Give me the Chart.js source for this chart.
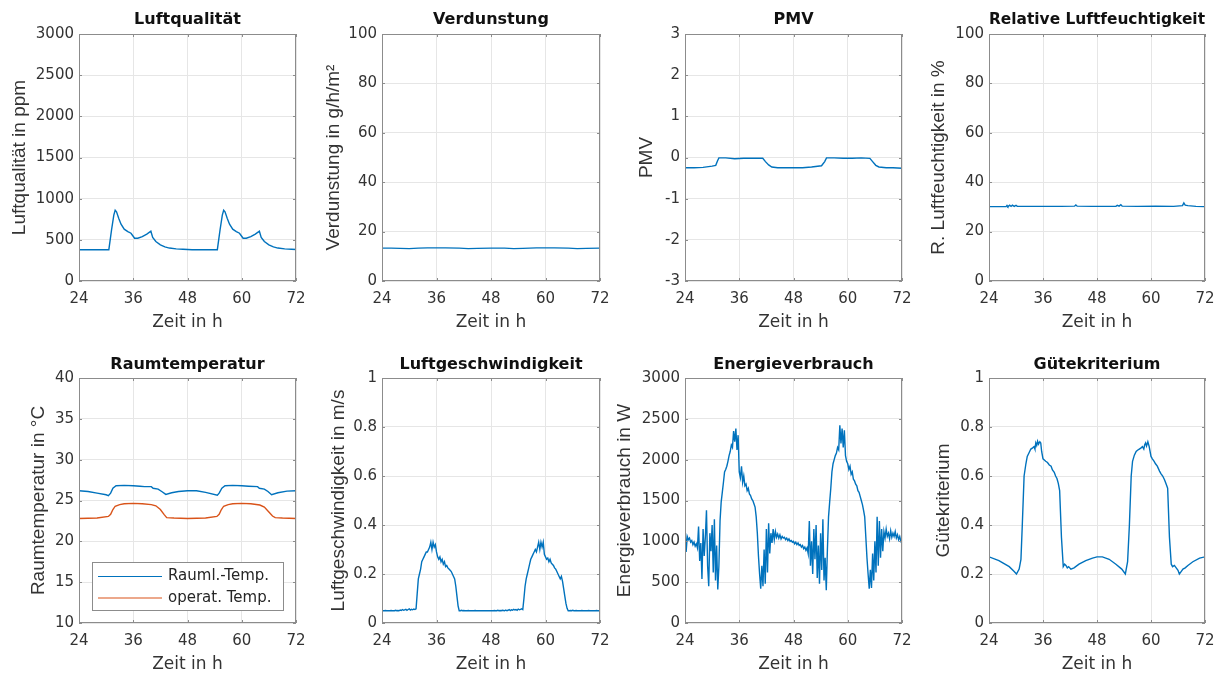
<!DOCTYPE html>
<html lang="de">
<head>
<meta charset="utf-8">
<title>Simulationsergebnisse Raumklima</title>
<script src="https://cdn.jsdelivr.net/npm/chart.js@4.4.1/dist/chart.umd.min.js"></script>
<style>
  html, body { margin: 0; padding: 0; background: #fff; overflow: hidden; }
  body { width: 1223px; height: 675px; position: relative; }
</style>
</head>
<body>
<script>
// Zeitachse (Stunden) und Achsenbeschriftungen
const zeitTicks = [24, 36, 48, 60, 72];
const ticksLuftqualitaet = [0, 500, 1000, 1500, 2000, 2500, 3000];
const ticksProzent = [0, 20, 40, 60, 80, 100];
const ticksPmv = [-3, -2, -1, 0, 1, 2, 3];
const ticksTemperatur = [10, 15, 20, 25, 30, 35, 40];
const ticksEins = [0, 0.2, 0.4, 0.6, 0.8, 1];
const ticksEnergie = [0, 500, 1000, 1500, 2000, 2500, 3000];

// Luftqualität in ppm
const zeitLuft = [24, 30.6, 31.2, 31.7, 32.0, 32.3, 32.8, 33.3, 34.0, 34.8,
  35.5, 35.9, 36.3, 37.0, 38.0, 39.0, 39.9, 40.3, 41.0, 42.0,
  43.0, 44.0, 45.5, 47.0, 49.0, 54.6, 55.2, 55.7, 56.0, 56.3,
  56.8, 57.3, 58.0, 58.8, 59.5, 59.9, 60.3, 61.0, 62.0, 63.0,
  63.9, 64.3, 65.0, 66.0, 67.0, 68.0, 69.5, 71.0, 72];
const luftqualitaet = [380, 380, 620, 800, 860, 840, 760, 690, 630, 600,
  580, 550, 520, 520, 540, 570, 605, 530, 480, 440,
  415, 400, 390, 385, 380, 380, 620, 800, 860, 840,
  760, 690, 630, 600, 580, 550, 520, 520, 540, 570,
  605, 530, 480, 440, 415, 400, 390, 385, 382];

// Verdunstung in g/h/m²
const zeitVerdunstung = [24, 26, 28, 30, 32, 34, 38, 41, 43, 45, 48, 51, 53, 55, 58, 62, 65, 67, 69, 72];
const verdunstung = [13.3, 13.3, 13.2, 13.1, 13.3, 13.4, 13.4, 13.3, 13.1, 13.2,
  13.3, 13.3, 13.1, 13.2, 13.4, 13.4, 13.3, 13.1, 13.2, 13.3];

// PMV
const zeitPmv = [24, 26, 28, 30, 30.8, 31.2, 31.5, 33, 35, 37,
  39, 41.2, 41.8, 42.5, 43.2, 44.5, 47, 50, 52, 54.2,
  54.9, 55.3, 57, 59, 61, 63, 64.9, 65.5, 66.2, 66.9,
  68.5, 70, 72];
const pmv = [-0.25, -0.25, -0.24, -0.21, -0.19, -0.08, -0.01, -0.01, -0.03, -0.02,
  -0.02, -0.02, -0.1, -0.18, -0.23, -0.25, -0.25, -0.25, -0.23, -0.2,
  -0.1, -0.01, -0.01, -0.02, -0.02, -0.01, -0.02, -0.1, -0.19, -0.23,
  -0.25, -0.25, -0.26];

// Relative Luftfeuchtigkeit in %
const zeitFeuchte = [24, 27.8, 28.0, 28.2, 28.6, 28.9, 29.2, 29.6, 30.0, 30.3,
  33, 36, 40, 43.0, 43.3, 43.6, 47, 50, 52.2, 52.5,
  52.9, 53.3, 53.6, 57, 61, 65, 67.0, 67.3, 67.6, 68.2,
  70, 72];
const feuchte = [30.1, 30.1, 30.6, 30.1, 30.7, 30.2, 30.7, 30.2, 30.6, 30.2,
  30.2, 30.2, 30.2, 30.3, 30.8, 30.3, 30.2, 30.2, 30.2, 30.6,
  30.3, 30.9, 30.3, 30.2, 30.3, 30.2, 30.5, 31.6, 30.7, 30.5,
  30.2, 30.1];

// Raumtemperatur in °C (Raumluft und operative Temperatur)
const zeitRaumluft = [24, 26, 28, 30, 30.5, 31.0, 31.5, 32.2, 34, 36,
  37.5, 38.5, 40.0, 40.4, 41.5, 42.3, 43.2, 44.5, 46, 48,
  50, 52, 54.6, 55.0, 55.6, 56.3, 58, 60, 61.5, 63.5,
  63.9, 65.0, 65.8, 66.6, 68, 70, 72];
const raumluftTemp = [26.2, 26.1, 25.9, 25.7, 25.6, 25.9, 26.5, 26.8, 26.85, 26.8,
  26.75, 26.7, 26.7, 26.5, 26.4, 26.1, 25.75, 25.95, 26.1, 26.2,
  26.2, 26.0, 25.65, 25.9, 26.5, 26.8, 26.85, 26.8, 26.75, 26.7,
  26.5, 26.4, 26.1, 25.7, 25.95, 26.15, 26.2];
const zeitOperativ = [24, 28, 30.5, 31.0, 31.5, 32.0, 33.0, 34, 36, 38,
  40, 41, 42, 42.8, 43.4, 45, 48, 52, 54.5, 55.0,
  55.5, 56.0, 57.0, 58, 60, 62, 64, 65, 66, 66.8,
  67.4, 69, 72];
const operativTemp = [22.8, 22.85, 23.05, 23.3, 23.9, 24.3, 24.5, 24.6, 24.65, 24.6,
  24.5, 24.35, 23.9, 23.3, 22.9, 22.85, 22.8, 22.85, 23.05, 23.3,
  23.9, 24.3, 24.5, 24.6, 24.65, 24.6, 24.45, 24.2, 23.6, 23.1,
  22.9, 22.85, 22.8];

// 15-Minuten-Raster für die verrauschten Messreihen (24 h ... 72 h)
const zeit15 = Array.from({length: 193}, (_, i) => 24 + i * 0.25);

// Luftgeschwindigkeit in m/s, eine Zeile = 3 Stunden
const luftgeschwindigkeit = [
  0.05, 0.05, 0.05, 0.051, 0.05, 0.05, 0.05, 0.05, 0.051, 0.05, 0.05, 0.05,
  0.052, 0.05, 0.051, 0.05, 0.053, 0.051, 0.055, 0.052, 0.054, 0.056, 0.052, 0.055,
  0.058, 0.053, 0.056, 0.054, 0.057, 0.055, 0.058, 0.12, 0.18, 0.2, 0.22, 0.25,
  0.26, 0.27, 0.28, 0.29, 0.29, 0.3, 0.31, 0.33, 0.3, 0.33, 0.31, 0.32,
  0.29, 0.27, 0.26, 0.27, 0.25, 0.26, 0.24, 0.25, 0.23, 0.235, 0.225, 0.22,
  0.215, 0.21, 0.2, 0.19, 0.18, 0.15, 0.11, 0.07, 0.05, 0.05, 0.052, 0.05,
  0.051, 0.05, 0.05, 0.05, 0.051, 0.05, 0.05, 0.05, 0.05, 0.05, 0.051, 0.05,
  0.05, 0.05, 0.05, 0.05, 0.05, 0.05, 0.05, 0.05, 0.05, 0.05, 0.05, 0.05,
  0.05, 0.05, 0.05, 0.051, 0.05, 0.05, 0.052, 0.05, 0.051, 0.05, 0.052, 0.051,
  0.05, 0.053, 0.05, 0.052, 0.055, 0.051, 0.054, 0.052, 0.056, 0.053, 0.055, 0.052,
  0.057, 0.054, 0.056, 0.058, 0.055, 0.1, 0.15, 0.18, 0.2, 0.22, 0.24, 0.26,
  0.27, 0.28, 0.29, 0.3, 0.29, 0.31, 0.33, 0.3, 0.33, 0.31, 0.33, 0.28,
  0.27, 0.26, 0.265, 0.25, 0.26, 0.245, 0.24, 0.235, 0.225, 0.22, 0.21, 0.2,
  0.19, 0.18, 0.19, 0.17, 0.14, 0.11, 0.08, 0.06, 0.05, 0.05, 0.051, 0.05,
  0.052, 0.05, 0.05, 0.051, 0.05, 0.05, 0.05, 0.05, 0.051, 0.05, 0.05, 0.05,
  0.05, 0.05, 0.051, 0.05, 0.05, 0.05, 0.05, 0.05, 0.05, 0.051, 0.05, 0.05,
  0.05];

// Energieverbrauch in W, eine Zeile = 3 Stunden
const energieverbrauch = [
  1200, 870, 1060, 1020, 1040, 990, 1010, 960, 990, 940, 970, 920,
  1180, 760, 980, 540, 1150, 820, 1050, 1380, 700, 450, 1100, 880,
  1200, 620, 1270, 520, 950, 410, 700, 1250, 1480, 1600, 1720, 1850,
  1880, 1920, 1980, 2050, 2100, 2180, 2150, 2350, 2220, 2380, 2120, 2300,
  1850, 1780, 1920, 1720, 1800, 1680, 1700, 1620, 1650, 1580, 1560, 1520,
  1500, 1460, 1420, 1300, 1100, 820, 600, 420, 700, 450, 900, 480,
  1150, 620, 1220, 850, 1100, 980, 1150, 1020, 1120, 1050, 1090, 1040,
  1080, 1030, 1060, 1040, 1050, 1020, 1040, 1010, 1030, 1000, 1010, 990,
  1000, 970, 990, 960, 980, 950, 960, 930, 950, 910, 930, 890,
  920, 850, 1250, 700, 1000, 600, 1150, 780, 1200, 550, 950, 480,
  1100, 650, 1270, 520, 800, 400, 900, 1300, 1480, 1650, 1850, 1950,
  2000, 2050, 2080, 2150, 2120, 2420, 2200, 2380, 2150, 2360, 2050, 1980,
  1950, 1880, 1920, 1820, 1850, 1760, 1740, 1700, 1680, 1620, 1600, 1550,
  1500, 1450, 1380, 1300, 1050, 800, 600, 420, 650, 430, 850, 520,
  1000, 620, 1300, 700, 1250, 800, 1150, 880, 1120, 1040, 1150, 1060,
  1100, 1030, 1130, 1050, 1100, 1060, 1120, 1040, 1080, 1020, 1060, 1000,
  1020];

// Gütekriterium
const zeitGuete = [24, 26.2, 28.5, 29.6, 30.1, 30.7, 31.1, 31.4, 31.8, 32.2,
  32.5, 32.9, 33.3, 33.7, 34.0, 34.2, 34.4, 34.6, 34.8, 35.0,
  35.3, 35.5, 35.7, 36.0, 36.3, 36.6, 37.0, 37.4, 37.8, 38.1,
  38.5, 38.8, 39.1, 39.4, 39.7, 40.1, 40.5, 40.8, 41.1, 41.4,
  41.7, 42.2, 42.9, 44.0, 45.5, 47.0, 48.0, 49.2, 50.7, 52.2,
  53.5, 54.3, 54.8, 55.2, 55.6, 55.9, 56.3, 56.7, 57.0, 57.4,
  57.8, 58.1, 58.4, 58.6, 58.8, 59.0, 59.3, 59.6, 60.0, 60.3,
  60.7, 61.0, 61.4, 61.9, 62.2, 62.6, 63.0, 63.3, 63.7, 64.1,
  64.5, 64.8, 65.2, 65.6, 66.0, 66.3, 66.7, 67.1, 67.6, 68.2,
  69.3, 70.8, 72];
const guete = [0.27, 0.255, 0.23, 0.21, 0.2, 0.22, 0.26, 0.4, 0.6, 0.65,
  0.68, 0.695, 0.71, 0.715, 0.72, 0.71, 0.735, 0.725, 0.742, 0.73,
  0.74, 0.735, 0.70, 0.67, 0.665, 0.66, 0.655, 0.645, 0.64, 0.625,
  0.615, 0.6, 0.59, 0.57, 0.54, 0.35, 0.23, 0.24, 0.235, 0.225,
  0.23, 0.22, 0.225, 0.24, 0.255, 0.265, 0.27, 0.27, 0.26, 0.24,
  0.22, 0.2, 0.25, 0.4, 0.6, 0.66, 0.685, 0.7, 0.705, 0.71,
  0.715, 0.72, 0.71, 0.728, 0.735, 0.722, 0.74, 0.72, 0.68, 0.67,
  0.66, 0.65, 0.64, 0.62, 0.61, 0.6, 0.585, 0.57, 0.55, 0.35,
  0.24, 0.23, 0.235, 0.225, 0.215, 0.2, 0.21, 0.22, 0.225, 0.235,
  0.25, 0.265, 0.27];

const BLAU = '#0072BD';
const ORANGE = '#D95319';

const punkte = (t, v) => v.map((y, i) => ({x: t[i], y: y}));

// Rahmen um die Achsen mit kleinen Innen-Ticks (wie MATLAB "box on")
const achsenRahmen = {
  id: 'achsenRahmen',
  afterDatasetsDraw(chart) {
    const {ctx, chartArea: a, scales: {x, y}} = chart;
    const l = Math.round(a.left), r = Math.round(a.right);
    const o = Math.round(a.top), u = Math.round(a.bottom);
    ctx.save();
    ctx.strokeStyle = '#8c8c8c';
    ctx.lineWidth = 1;
    ctx.strokeRect(l + 0.5, o + 0.5, r - l - 1, u - o - 1);
    ctx.beginPath();
    x.ticks.forEach(t => {
      const px = Math.round(x.getPixelForValue(t.value)) + 0.5;
      ctx.moveTo(px, u); ctx.lineTo(px, u - 3);
      ctx.moveTo(px, o); ctx.lineTo(px, o + 3);
    });
    y.ticks.forEach(t => {
      const py = Math.round(y.getPixelForValue(t.value)) + 0.5;
      ctx.moveTo(l, py); ctx.lineTo(l + 3, py);
      ctx.moveTo(r, py); ctx.lineTo(r - 3, py);
    });
    ctx.stroke();
    ctx.restore();
  }
};

// Legende innerhalb der Achsen, unten
const legendeInnen = {
  id: 'legendeInnen',
  afterDraw(chart, args, opts) {
    if (!opts.display) return;
    const {ctx, chartArea: a} = chart;
    const x0 = Math.round(a.left) + 13, x1 = Math.round(a.right) - 13;
    const y1 = Math.round(a.bottom) - 13, y0 = y1 - 48;
    ctx.save();
    ctx.fillStyle = '#fff';
    ctx.fillRect(x0, y0, x1 - x0, y1 - y0);
    ctx.strokeStyle = '#8c8c8c';
    ctx.lineWidth = 1;
    ctx.strokeRect(x0 + 0.5, y0 + 0.5, x1 - x0, y1 - y0);
    ctx.font = '15px "DejaVu Sans", sans-serif';
    ctx.textBaseline = 'middle';
    ctx.fillStyle = '#262626';
    chart.data.datasets.forEach((ds, i) => {
      const yy = y0 + 14.5 + i * 21.5;
      ctx.strokeStyle = ds.borderColor;
      ctx.lineWidth = 1.2;
      ctx.beginPath();
      ctx.moveTo(x0 + 6, yy); ctx.lineTo(x0 + 70, yy);
      ctx.stroke();
      ctx.fillText(ds.label, x0 + 76, yy);
    });
    ctx.restore();
  }
};

Chart.defaults.font.family = '"DejaVu Sans", sans-serif';
Chart.defaults.color = '#333';
Chart.defaults.animation = false;

const felder = [
  {titel: 'Luftqualität', yTitel: 'Luftqualität in ppm', yTicks: ticksLuftqualitaet, yTitelX: 19,
   reihen: [{label: 'Luftqualität', daten: punkte(zeitLuft, luftqualitaet), farbe: BLAU}]},
  {titel: 'Verdunstung', yTitel: 'Verdunstung in g/h/m²', yTicks: ticksProzent, yTitelX: 333.5,
   reihen: [{label: 'Verdunstung', daten: punkte(zeitVerdunstung, verdunstung), farbe: BLAU}]},
  {titel: 'PMV', yTitel: 'PMV', yTicks: ticksPmv, yTitelX: 646.7,
   reihen: [{label: 'PMV', daten: punkte(zeitPmv, pmv), farbe: BLAU}]},
  {titel: 'Relative Luftfeuchtigkeit', yTitel: 'R. Luftfeuchtigkeit in %', yTicks: ticksProzent, yTitelX: 938.5,
   reihen: [{label: 'rel. Feuchte', daten: punkte(zeitFeuchte, feuchte), farbe: BLAU}]},
  {titel: 'Raumtemperatur', yTitel: 'Raumtemperatur in °C', yTicks: ticksTemperatur, yTitelX: 38.5, legende: true,
   reihen: [{label: 'Rauml.-Temp.', daten: punkte(zeitRaumluft, raumluftTemp), farbe: BLAU},
            {label: 'operat. Temp.', daten: punkte(zeitOperativ, operativTemp), farbe: ORANGE}]},
  {titel: 'Luftgeschwindigkeit', yTitel: 'Luftgeschwindigkeit in m/s', yTicks: ticksEins, yTitelX: 338,
   reihen: [{label: 'Luftgeschwindigkeit', daten: punkte(zeit15, luftgeschwindigkeit), farbe: BLAU}]},
  {titel: 'Energieverbrauch', yTitel: 'Energieverbrauch in W', yTicks: ticksEnergie, yTitelX: 624,
   reihen: [{label: 'Energieverbrauch', daten: punkte(zeit15, energieverbrauch), farbe: BLAU}]},
  {titel: 'Gütekriterium', yTitel: 'Gütekriterium', yTicks: ticksEins, yTitelX: 943.5,
   reihen: [{label: 'Gütekriterium', daten: punkte(zeitGuete, guete), farbe: BLAU}]}
];

// Lage der Achsenflächen im Bild
const spaltenLinks = [79, 382, 685, 989];
const spaltenBreite = [217, 218, 217, 216];
const zeilenOben = [34, 378];
const zeilenHoehe = [247, 245];
const titelPolster = [{top: 10.1, bottom: 4.7}, {top: 11.3, bottom: 3.5}];
const LY = 76, RR = 22, TT = 34, BX = 52;

felder.forEach((f, i) => {
  const zeile = Math.floor(i / 4), spalte = i % 4;
  const links = spaltenLinks[spalte] - LY;
  const oben = zeilenOben[zeile] - TT;
  const breite = LY + spaltenBreite[spalte] + RR;
  const hoehe = TT + zeilenHoehe[zeile] + BX;

  const canvas = document.createElement('canvas');
  canvas.width = breite;
  canvas.height = hoehe;
  canvas.style.cssText = `position:absolute;left:${links}px;top:${oben}px;width:${breite}px;height:${hoehe}px`;
  document.body.appendChild(canvas);

  new Chart(canvas, {
    type: 'line',
    data: {
      datasets: f.reihen.map(r => ({
        label: r.label,
        data: r.daten,
        borderColor: r.farbe,
        borderWidth: 1.4,
        pointRadius: 0,
        tension: 0,
        fill: false
      }))
    },
    options: {
      responsive: false,
      events: [],
      layout: {padding: {left: 0, right: RR, top: 0, bottom: 0}},
      plugins: {
        legend: {display: false},
        tooltip: {enabled: false},
        title: {
          display: true,
          fullSize: false,
          text: f.titel,
          color: '#111',
          font: {size: 16, weight: 'bold'},
          padding: titelPolster[zeile]
        },
        legendeInnen: {display: !!f.legende}
      },
      scales: {
        x: {
          type: 'linear',
          min: 24,
          max: 72,
          afterBuildTicks: s => { s.ticks = zeitTicks.map(v => ({value: v})); },
          afterFit: s => { s.height = BX; },
          grid: {color: '#e6e6e6', drawTicks: false},
          border: {display: false},
          ticks: {font: {size: 15}, padding: 9, maxRotation: 0, autoSkip: false, callback: v => String(v)},
          title: {display: true, text: 'Zeit in h', font: {size: 17}, padding: {top: 0, bottom: 0}, color: '#333'}
        },
        y: {
          type: 'linear',
          min: f.yTicks[0],
          max: f.yTicks[f.yTicks.length - 1],
          afterBuildTicks: s => { s.ticks = f.yTicks.map(v => ({value: v})); },
          afterFit: s => { s.width = LY; },
          grid: {color: '#e6e6e6', drawTicks: false},
          border: {display: false},
          ticks: {font: {size: 15}, padding: 5, autoSkip: false, callback: v => String(v)},
          title: {
            display: true,
            text: f.yTitel,
            color: '#333',
            font: {family: '"Liberation Sans", Arial, sans-serif', size: 19},
            padding: {top: f.yTitelX + 0.5 - links - 11.4, bottom: 0}
          }
        }
      }
    },
    plugins: [achsenRahmen, legendeInnen]
  });
});
</script>
</body>
</html>
